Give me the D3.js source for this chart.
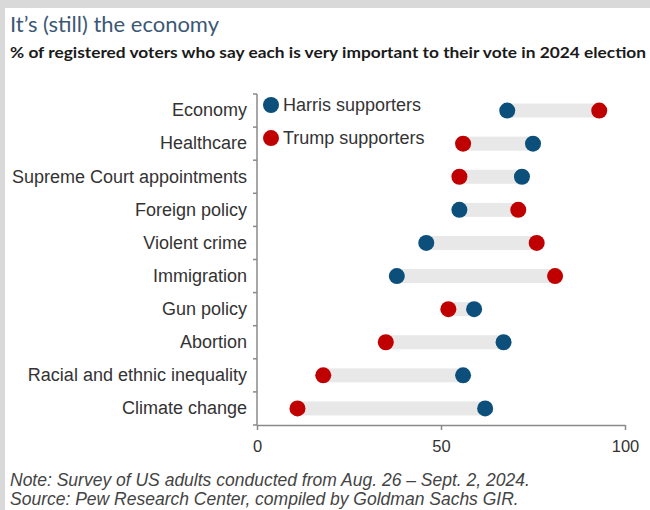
<!DOCTYPE html>
<html>
<head>
<meta charset="utf-8">
<script src="https://cdn.jsdelivr.net/npm/d3@7"></script>
<style>
  body { margin: 0; background: #d9d9d9; }
  svg { display: block; }
</style>
</head>
<body>
<script>
// Data
var categories = ["Economy", "Healthcare", "Supreme Court appointments", "Foreign policy",
  "Violent crime", "Immigration", "Gun policy", "Abortion",
  "Racial and ethnic inequality", "Climate change"];
var harrisValues = [68, 75, 72, 55, 46, 38, 59, 67, 56, 62];
var trumpValues = [93, 56, 55, 71, 76, 81, 52, 35, 18, 11];
var seriesNames = ["Harris supporters", "Trump supporters"];
var xTicks = [0, 50, 100];

var svgWidth = 650;
var svgHeight = 510;

var margin = { top: 94, right: 25, bottom: 85, left: 257 };
var chartWidth = 625 - margin.left;
var chartHeight = 425 - margin.top;

var blue = "#0b4f7a";
var red = "#c00000";
var labelFont = "Liberation Sans, Arial, sans-serif";

var svg = d3.select("body")
  .append("svg")
  .attr("width", svgWidth)
  .attr("height", svgHeight);

// white panel, grey strip left on top and left
svg.append("rect")
  .attr("x", 5).attr("y", 8)
  .attr("width", svgWidth - 5).attr("height", svgHeight - 8)
  .attr("fill", "#fff");

svg.append("text")
  .attr("x", 10).attr("y", 32)
  .attr("font-family", "Lato, Open Sans, sans-serif")
  .attr("font-size", 21)
  .attr("fill", "#3b5875")
  .attr("textLength", 209)
  .attr("lengthAdjust", "spacingAndGlyphs")
  .text("It\u2019s (still) the economy");

svg.append("text")
  .attr("x", 10).attr("y", 58)
  .attr("font-family", "Lato, Open Sans, sans-serif")
  .attr("font-size", 15)
  .attr("font-weight", 700)
  .attr("fill", "#1a1a1a")
  .attr("textLength", 636)
  .attr("lengthAdjust", "spacingAndGlyphs")
  .text("% of registered voters who say each is very important to their vote in 2024 election");

var chartGroup = svg.append("g")
  .attr("transform", `translate(${margin.left}, ${margin.top})`);

var xScale = d3.scaleLinear()
  .domain([0, 100])
  .range([0, chartWidth]);

var yScale = d3.scaleBand()
  .domain(categories)
  .range([0, chartHeight]);

var rows = categories.map(function(c, i) {
  return { cat: c, harris: harrisValues[i], trump: trumpValues[i] };
});

// grey connecting bars
chartGroup.selectAll(".bar")
  .data(rows)
  .enter()
  .append("rect")
  .attr("x", d => xScale(Math.min(d.harris, d.trump)))
  .attr("width", d => xScale(Math.abs(d.harris - d.trump)))
  .attr("y", d => yScale(d.cat) + yScale.bandwidth() / 2 - 7)
  .attr("height", 14)
  .attr("fill", "#e8e8e8");

// dots
chartGroup.selectAll(".harris")
  .data(rows)
  .enter()
  .append("circle")
  .attr("cx", d => xScale(d.harris))
  .attr("cy", d => yScale(d.cat) + yScale.bandwidth() / 2)
  .attr("r", 8)
  .attr("fill", blue);

chartGroup.selectAll(".trump")
  .data(rows)
  .enter()
  .append("circle")
  .attr("cx", d => xScale(d.trump))
  .attr("cy", d => yScale(d.cat) + yScale.bandwidth() / 2)
  .attr("r", 8)
  .attr("fill", red);

// left axis labels; ticks go at the band edges
var leftAxis = d3.axisLeft(yScale).tickSize(0).tickPadding(10);
var yAxisG = chartGroup.append("g").call(leftAxis);
yAxisG.select(".domain").remove();
yAxisG.selectAll("text")
  .attr("font-family", labelFont)
  .attr("font-size", 18)
  .attr("fill", "#333");

var edges = categories.map(c => yScale(c)).concat([chartHeight]);
chartGroup.selectAll(".ytick")
  .data(edges)
  .enter()
  .append("line")
  .attr("x1", -4).attr("x2", 0)
  .attr("y1", d => d).attr("y2", d => d)
  .attr("stroke", "#8a8a8a")
  .attr("stroke-width", 1.5);

chartGroup.append("line")
  .attr("x1", 0).attr("x2", 0)
  .attr("y1", 0).attr("y2", chartHeight)
  .attr("stroke", "#8a8a8a")
  .attr("stroke-width", 1.5);

// bottom axis
var bottomAxis = d3.axisBottom(xScale).tickValues(xTicks).tickSize(5).tickSizeOuter(0).tickPadding(10);
var xAxisG = chartGroup.append("g")
  .attr("transform", "translate(0, " + chartHeight + ")")
  .call(bottomAxis);
xAxisG.select(".domain").attr("stroke", "#8a8a8a").attr("stroke-width", 1.5);
xAxisG.selectAll("line").attr("stroke", "#8a8a8a").attr("stroke-width", 1.5);
xAxisG.selectAll("text")
  .attr("font-family", labelFont)
  .attr("font-size", 16.5)
  .attr("fill", "#333");

// legend
var legend = chartGroup.selectAll(".legend")
  .data(seriesNames)
  .enter()
  .append("g")
  .attr("transform", (d, i) => `translate(14, ${yScale(categories[i]) + 11})`);

legend.append("circle")
  .attr("r", 8)
  .attr("fill", (d, i) => i === 0 ? blue : red);

legend.append("text")
  .attr("x", 12)
  .attr("dy", "0.35em")
  .attr("font-family", labelFont)
  .attr("font-size", 18)
  .attr("fill", "#333")
  .text(d => d);

// footnotes
svg.append("text")
  .attr("x", 10).attr("y", 486)
  .attr("font-family", labelFont)
  .attr("font-style", "italic")
  .attr("font-size", 17.5)
  .attr("fill", "#444")
  .text("Note: Survey of US adults conducted from Aug. 26 \u2013 Sept. 2, 2024.");

svg.append("text")
  .attr("x", 10).attr("y", 505)
  .attr("font-family", labelFont)
  .attr("font-style", "italic")
  .attr("font-size", 17.5)
  .attr("fill", "#444")
  .text("Source: Pew Research Center, compiled by Goldman Sachs GIR.");
</script>
</body>
</html>
